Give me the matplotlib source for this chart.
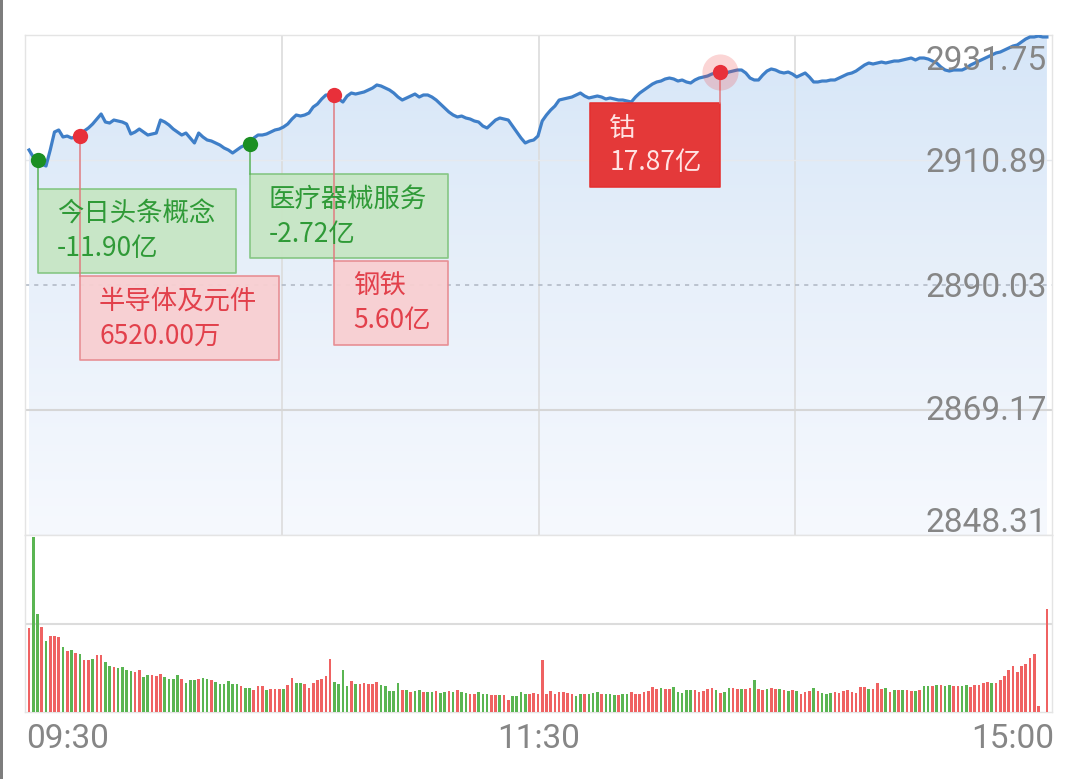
import numpy as np
import matplotlib
matplotlib.use("Agg")
import matplotlib.pyplot as plt
import matplotlib.transforms as mtransforms
from matplotlib.patches import Rectangle, PathPatch
from matplotlib.path import Path
from matplotlib.colors import LinearSegmentedColormap

# ---------------- data ----------------
price = [
    2912.56, 2911.39, 2910.89, 2910.22, 2909.89, 2912.56, 2915.56, 2915.90, 2914.73, 2914.89,
    2914.56, 2914.73, 2914.89, 2915.73, 2916.23, 2916.90, 2917.73, 2918.57, 2917.23, 2917.06,
    2917.56, 2917.40, 2917.23, 2916.90, 2915.23, 2915.56, 2916.06, 2915.56, 2915.06, 2915.23,
    2915.39, 2917.56, 2917.23, 2916.73, 2916.06, 2915.56, 2915.06, 2915.39, 2914.56, 2913.73,
    2915.39, 2914.73, 2914.23, 2914.06, 2913.73, 2913.39, 2912.89, 2912.56, 2912.06, 2912.56,
    2913.06, 2913.39, 2913.56, 2914.56, 2915.06, 2915.06, 2915.23, 2915.56, 2915.90, 2916.06,
    2916.40, 2916.90, 2917.73, 2918.40, 2918.23, 2918.40, 2918.73, 2919.73, 2920.23, 2921.07,
    2921.74, 2921.74, 2921.74, 2921.07, 2920.57, 2921.57, 2922.07, 2921.90, 2922.07, 2922.24,
    2922.57, 2922.90, 2923.41, 2923.24, 2922.90, 2922.57, 2922.07, 2921.40, 2920.90, 2921.24,
    2921.57, 2921.90, 2921.40, 2921.74, 2921.74, 2921.40, 2920.90, 2920.23, 2919.57, 2918.90,
    2918.40, 2918.07, 2918.23, 2917.90, 2917.73, 2917.40, 2917.23, 2916.56, 2916.23, 2916.90,
    2917.56, 2917.90, 2917.73, 2917.56, 2916.56, 2915.56, 2914.56, 2913.73, 2914.06, 2914.23,
    2914.89, 2917.40, 2918.40, 2919.23, 2919.90, 2920.90, 2921.07, 2921.24, 2921.40, 2921.74,
    2922.07, 2921.57, 2921.24, 2921.40, 2921.57, 2921.40, 2921.07, 2921.24, 2921.07, 2920.90,
    2920.90, 2920.73, 2920.57, 2921.40, 2922.07, 2922.57, 2923.07, 2923.57, 2923.91, 2924.07,
    2924.41, 2924.57, 2924.41, 2924.07, 2924.24, 2923.91, 2923.74, 2924.24, 2924.57, 2924.74,
    2924.91, 2925.24, 2925.41, 2925.57, 2925.24, 2925.57, 2925.74, 2925.91, 2925.91, 2925.41,
    2924.57, 2924.24, 2924.24, 2925.07, 2925.74, 2926.08, 2925.91, 2925.57, 2925.41, 2925.57,
    2925.24, 2924.74, 2925.07, 2925.41, 2924.74, 2923.91, 2923.91, 2924.07, 2924.07, 2924.24,
    2924.24, 2924.57, 2924.91, 2925.24, 2925.41, 2925.74, 2926.24, 2926.74, 2927.08, 2926.91,
    2927.08, 2927.24, 2927.08, 2927.24, 2927.41, 2927.41, 2927.58, 2927.74, 2927.91, 2927.58,
    2927.91, 2927.91, 2927.74, 2927.41, 2927.08, 2926.41, 2925.91, 2925.74, 2925.91, 2925.91,
    2925.91, 2926.24, 2926.74, 2927.08, 2927.41, 2927.74, 2928.08, 2928.41, 2928.75, 2928.91,
    2929.25, 2929.58, 2929.91, 2930.08, 2930.58, 2931.08, 2931.42, 2931.42, 2931.58, 2931.42,
    2931.42,
]

volume = [
    84, 175, 98, 85, 71, 76, 76, 75, 65, 61, 62, 59, 58, 52, 52, 53, 57, 57, 50, 46,
    45, 44, 45, 42, 41, 40, 42, 35, 37, 37, 36, 38, 35, 33, 33, 37, 33, 29, 32, 32,
    33, 34, 33, 32, 30, 28, 28, 31, 28, 28, 26, 24, 24, 22, 26, 26, 22, 23, 23, 23,
    23, 27, 34, 29, 29, 28, 24, 29, 32, 33, 36, 53, 30, 28, 42, 26, 31, 28,
    28, 29, 28, 28, 30, 27, 26, 21, 21, 29, 22, 22, 20, 21, 22, 20, 20, 20, 21, 19,
    20, 21, 20, 22, 20, 19, 18, 18, 20, 18, 18, 17, 17, 17, 17, 12, 16, 16, 20, 18,
    18, 19, 18, 52, 18, 21, 18, 20, 20, 19, 18, 16, 18, 18, 18, 19, 20, 18, 18, 18,
    17, 17, 18, 18, 20, 18, 18, 20, 21, 25, 23, 24, 23, 23, 25, 20, 19, 22, 22, 22,
    20, 21, 23, 24, 22,
    19, 20, 24, 24, 23, 23, 23, 24, 32, 23, 22, 23, 24, 23, 23, 22, 21, 22, 21, 18,
    20, 21, 24, 21, 19, 18, 19, 20, 19, 21, 22, 20, 19, 25, 25, 23, 23, 29, 23, 24,
    20, 22, 22, 22, 22, 21, 21, 22, 26, 26, 26, 27, 27, 26, 27, 26, 26, 26, 27, 25,
    27, 27, 29, 30, 29, 29, 32, 36, 42, 46, 40, 46, 48, 54, 58, 6, 0, 103,
]

# r = up minute (red), g = down minute (green)
volume_dir = (
    "rggrgrrrgrgrgrrgrrgg" "rggggrrggrrrggggrggg" "rggrggggggrggrrrgrrr" "grrggrrrrrrrggggrg"
    "rrrrrggggg" "rgrggrggrggrgrgg" "rrgggrrgrrgggg" "rrrrrrrrrrrggrgggr"
    "gggrggrrrrrrrgrrgggggrrrrrg"
    "rggrrgrrgr" "rgrrgrgrgr" "rrgrgggrrr" "rrrrrgrrrg" "rgrgrrgrgg" "rgrggrrggr"
    "rrrrgrrrrr" "rrrrrrrr"
)

y_ticks = [2931.75, 2910.89, 2890.03, 2869.17, 2848.31]
y_tick_labels = ["2931.75", "2910.89", "2890.03", "2869.17", "2848.31"]
prev_close = 2890.03
time_labels = ["09:30", "11:30", "15:00"]

event_names = ["今日头条概念", "半导体及元件", "医疗器械服务", "钢铁", "钴"]
event_amounts = ["-11.90亿", "6520.00万", "-2.72亿", "5.60亿", "17.87亿"]
event_idx = [2, 12, 52, 72, 163]
event_style = ["green", "red", "green", "red", "solid"]

# ---------------- layout ----------------
W, H = 1080, 779
plt.rcParams["font.family"] = ["Roboto", "Noto Sans CJK SC", "DejaVu Sans"]
fig = plt.figure(figsize=(W / 100, H / 100), dpi=100)
fig.patch.set_facecolor("white")

L, R = 25, 1052
P_TOP, P_BOT, V_BOT = 35, 535, 712
ax = fig.add_axes([L / W, (H - P_BOT) / H, (R - L) / W, (P_BOT - P_TOP) / H])
axv = fig.add_axes([L / W, (H - V_BOT) / H, (R - L) / W, (V_BOT - P_BOT) / H])

n = len(price)
x = np.arange(n)
xlim = (-0.95, 241.2)
ymin, ymax = y_ticks[-1], y_ticks[0]

# gradient fill under price line
cmap = LinearSegmentedColormap.from_list("fillgrad", ["#f6f9fe", "#e8f0fa", "#d6e6f8"])
grad = np.linspace(0, 1, 256).reshape(-1, 1)
img = ax.imshow(grad, extent=[xlim[0], xlim[1], ymin, ymax], origin="lower",
                aspect="auto", cmap=cmap, zorder=1, interpolation="bicubic")
verts = [(x[0], ymin)] + list(zip(x, price)) + [(x[-1], ymin), (x[0], ymin)]
clip = PathPatch(Path(verts), transform=ax.transData, facecolor="none", edgecolor="none")
ax.add_patch(clip)
img.set_clip_path(clip)

ax.set_xlim(*xlim)
ax.set_ylim(ymin, ymax)

# grid
for f in (0.25, 0.5, 0.75):
    ax.plot([f, f], [0, 1], transform=ax.transAxes, color="#dcdcdc", lw=1.2, zorder=2)
ax.axhline(y_ticks[1], color="#e6e9ee", lw=1.0, zorder=2)
ax.axhline(y_ticks[3], color="#d6d6d6", lw=1.5, zorder=2)
ax.axhline(prev_close, color="#b3bbc7", lw=1.2, ls=(0, (2.5, 3)), zorder=2)

# price line
ax.plot(x, price, color="#3f7fc8", lw=2.3, zorder=5, solid_joinstyle="round")

# y labels
blend = mtransforms.blended_transform_factory(ax.transAxes, ax.transData)
offsets_px = [35, 12, 12, 10, -3]
for v, lab, off in zip(y_ticks, y_tick_labels, offsets_px):
    ax.annotate(lab, xy=(0.995, v), xycoords=blend, xytext=(0, -off * 0.72),
                textcoords="offset points", ha="right", va="baseline",
                fontsize=24, color="#868686", family=["Roboto", "DejaVu Sans"], zorder=9)

for a in (ax, axv):
    a.set_xticks([])
    a.set_yticks([])
    for s in a.spines.values():
        s.set_color("#e4e4e4")
        s.set_linewidth(1.0)

# events
bt = mtransforms.blended_transform_factory(ax.transData, ax.transAxes)
box_w = [46.7, 46.9, 46.9, 26.9, 30.7]
box_top = [(P_BOT - t) / (P_BOT - P_TOP) for t in (189, 276, 174, 261, 103)]
box_h = 84 / (P_BOT - P_TOP)
styles = {
    "green": dict(face="#c7e6c5", edge="#82c580", text="#2f9a37", line="#58b257", dot="#1b8f23"),
    "red": dict(face="#f8cfd1", edge="#e78b90", text="#e2404b", line="#e07b80", dot="#e8303a"),
    "solid": dict(face="#e52f2f", edge="#e52f2f", text="#ffe3e3", line="#e07b80", dot="#e8303a"),
}
for k, (name, amt, idx, st) in enumerate(zip(event_names, event_amounts, event_idx, event_style)):
    s = styles[st]
    xi = x[idx]
    left = xi - box_w[k] if st == "solid" else xi
    top = box_top[k]
    rect = Rectangle((left, top - box_h), box_w[k], box_h, transform=bt,
                     facecolor=s["face"], edgecolor=s["edge"], lw=1.2, zorder=6,
                     alpha=0.95, joinstyle="round")
    ax.add_patch(rect)
    y_top_data = ymin + top * (ymax - ymin)
    ax.plot([xi, xi], [price[idx], y_top_data], color=s["line"], lw=1.1, zorder=7)
    if st == "solid":
        ax.plot([xi], [price[idx]], "o", ms=26, color="#f04040", alpha=0.22, mec="none", zorder=8)
    ax.plot([xi], [price[idx]], "o", ms=11, color=s["dot"], mec="none", zorder=8)
    ax.text(left + 4.5, top - 25 / 500, name, transform=bt, ha="left", va="center",
            fontsize=19, color=s["text"], family=["Noto Sans CJK SC", "DejaVu Sans"], zorder=9)
    ax.text(left + 4.5, top - 60 / 500, amt, transform=bt, ha="left", va="center",
            fontsize=19, color=s["text"], family=["Noto Sans CJK SC", "DejaVu Sans"], zorder=9)

# volume panel
red_c, green_c = "#ef6262", "#5ab552"
colors = [red_c if c == "r" else green_c for c in volume_dir]
m = min(len(volume), len(colors))
axv.bar(x[:m], volume[:m], width=0.62, color=colors[:m], zorder=3)
axv.set_xlim(*xlim)
axv.set_ylim(0, V_BOT - P_BOT)
axv.axhline((V_BOT - P_BOT) / 2, color="#dcdcdc", lw=1.5, zorder=1)

# time labels
tb = axv.transAxes
ty = -(748 - V_BOT) / (V_BOT - P_BOT)
axv.text(0.001, ty, time_labels[0], transform=tb, ha="left", va="baseline",
         fontsize=24, color="#868686")
axv.text(0.5, ty, time_labels[1], transform=tb, ha="center", va="baseline",
         fontsize=24, color="#868686")
axv.text(1.002, ty, time_labels[2], transform=tb, ha="right", va="baseline",
         fontsize=24, color="#868686")

# left screenshot edge
fig.patches.append(Rectangle((0, 0), 3 / W, 1, transform=fig.transFigure,
                             facecolor="#7d7d7d", edgecolor="none"))

fig.savefig("out.png", dpi=100, facecolor="white")
